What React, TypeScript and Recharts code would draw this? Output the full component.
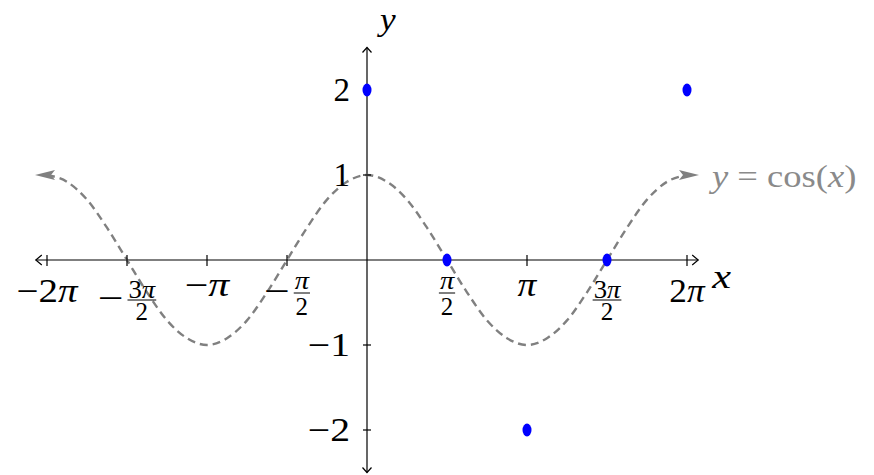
import React from "react"
import {
  ComposedChart,
  Line,
  Scatter,
  XAxis,
  YAxis,
  ReferenceLine,
  ReferenceDot,
} from "recharts"

// x values are in units of π
const CURVE_X = [
  -2, -1.875, -1.75, -1.625, -1.5, -1.375, -1.25, -1.125, -1, -0.875, -0.75, -0.625, -0.5, -0.375, -0.25, -0.125,
  0, 0.125, 0.25, 0.375, 0.5, 0.625, 0.75, 0.875, 1, 1.125, 1.25, 1.375, 1.5, 1.625, 1.75, 1.875, 2,
]
const CURVE_Y = [
  1, 0.92, 0.71, 0.38, 0, -0.38, -0.71, -0.92, -1, -0.92, -0.71, -0.38, 0, 0.38, 0.71, 0.92,
  1, 0.92, 0.71, 0.38, 0, -0.38, -0.71, -0.92, -1, -0.92, -0.71, -0.38, 0, 0.38, 0.71, 0.92, 1,
]

const POINT_X = [0, 0.5, 1, 1.5, 2]
const POINT_Y = [2, 0, -2, 0, 2]

const X_TICKS = [-2, -1.5, -1, -0.5, 0.5, 1, 1.5, 2]
const X_TICK_LABELS = ["−2π", "−3π/2", "−π", "−π/2", "π/2", "π", "3π/2", "2π"]
const Y_TICKS = [-2, -1, 1, 2]
const Y_TICK_LABELS = ["−2", "−1", "1", "2"]

const X_DOMAIN: [number, number] = [-2.25, 2.25]
const Y_DOMAIN: [number, number] = [-2.5, 2.5]
const X_AXIS_END = 2.07

const CURVE_LABEL = "y = cos(x)"

const curveData = CURVE_X.map((x, i) => ({ x, y: CURVE_Y[i] }))
const pointData = POINT_X.map((x, i) => ({ x, y: POINT_Y[i] }))

const FONT = "'Liberation Serif', 'Times New Roman', serif"
const GRAY = "#808080"
const MAIN = 33
const SMALL = 25

// rough Computer Modern advance widths (em) so Times glyphs take TeX-like room
const CM_W: Record<string, number> = { "−": 0.78, "π": 0.57, "=": 0.78, " ": 0.28, "(": 0.39, ")": 0.39, c: 0.44, o: 0.5, s: 0.39, x: 0.57, y: 0.49 }
const ITALIC = new Set(["π", "x", "y"])
const widthOf = (t: string, size: number) => t.split("").reduce((s, ch) => s + (CM_W[ch] ?? 0.5), 0) * size

function MathText({ text, fontSize, ...rest }: any) {
  return (
    <text
      fontFamily={FONT}
      fontSize={fontSize}
      textLength={widthOf(text, fontSize)}
      lengthAdjust="spacingAndGlyphs"
      style={{ whiteSpace: "pre" }}
      {...rest}
    >
      {text.split("").map((ch: string, i: number) =>
        ITALIC.has(ch) ? <tspan key={i} fontStyle="italic">{ch}</tspan> : <tspan key={i}>{ch}</tspan>
      )}
    </text>
  )
}

function XTick({ cx, cy, label }: any) {
  const tick = <line x1={cx} x2={cx} y1={cy - 5} y2={cy + 6} stroke="#000" strokeWidth={1.2} />
  if (!label.includes("/")) {
    const base = cy + (/\d/.test(label) ? 42 : 36)
    return (
      <g>
        {tick}
        <MathText text={label} x={cx} y={base} fontSize={MAIN} textAnchor="middle" fill="#000" />
      </g>
    )
  }
  const [num, den] = label.split("/")
  const neg = num.startsWith("−")
  const n = neg ? num.slice(1) : num
  const digit = /\d/.test(n)
  const numBase = cy + (digit ? 38 : 29)
  const bar = cy + (digit ? 40 : 33)
  const denBase = cy + (digit ? 60 : 55)
  const fracW = widthOf(n, SMALL) + 2
  const mW = widthOf("−", MAIN)
  const total = neg ? mW + 4 + fracW : fracW
  const left = cx - total / 2
  const fracLeft = neg ? left + mW + 4 : left
  const fracCx = fracLeft + fracW / 2
  return (
    <g>
      {tick}
      {neg && <MathText text="−" x={left + mW / 2} y={bar + 9} fontSize={MAIN} textAnchor="middle" fill="#000" />}
      <MathText text={n} x={fracCx} y={numBase} fontSize={SMALL} textAnchor="middle" fill="#000" />
      <line x1={fracLeft} x2={fracLeft + fracW} y1={bar} y2={bar} stroke="#000" strokeWidth={1} />
      <MathText text={den} x={fracCx} y={denBase} fontSize={SMALL} textAnchor="middle" fill="#000" />
    </g>
  )
}

function YTick({ cx, cy, label }: any) {
  return (
    <g>
      <line x1={cx - 4} x2={cx + 4} y1={cy} y2={cy} stroke="#000" strokeWidth={1.2} />
      <MathText text={label} x={cx - 17} y={cy + 11} fontSize={MAIN} textAnchor="end" fill="#000" />
    </g>
  )
}

function AxisShape({ x1, y1, x2, y2 }: any) {
  const horizontal = Math.abs(y2 - y1) < 1
  const a = horizontal
    ? [
        `M${x1 + 6},${y1 - 5} L${x1},${y1} L${x1 + 6},${y1 + 5}`,
        `M${x2 - 6},${y2 - 5} L${x2},${y2} L${x2 - 6},${y2 + 5}`,
      ]
    : [
        `M${x1 - 4.5},${y1 + 5} L${x1},${y1} L${x1 + 4.5},${y1 + 5}`,
        `M${x2 - 4.5},${y2 - 5} L${x2},${y2} L${x2 + 4.5},${y2 - 5}`,
      ]
  return (
    <g>
      <line x1={x1} y1={y1} x2={x2} y2={y2} stroke="#000" strokeWidth={1.2} />
      {a.map((d, i) => (
        <path key={i} d={d} fill="none" stroke="#000" strokeWidth={1.2} />
      ))}
    </g>
  )
}

function CurveEnd(props: any) {
  const { cx, cy, index } = props
  const last = curveData.length - 1
  if (index !== 0 && index !== last) return <g key={`d${index}`} />
  const s = index === 0 ? -1 : 1
  const pts = [
    [cx + s * 12, cy],
    [cx - s * 8, cy - 5],
    [cx - s * 4, cy],
    [cx - s * 8, cy + 5],
  ]
  return <polygon key={`d${index}`} points={pts.map((p) => p.join(",")).join(" ")} fill={GRAY} />
}

function BlueDot({ cx, cy }: any) {
  return <ellipse cx={cx} cy={cy} rx={4.5} ry={6.5} fill="#0000ff" />
}

export default function App() {
  return (
    <div style={{ position: "absolute", left: 0, top: 0, background: "#fff" }}>
      <ComposedChart
        width={874}
        height={475}
        margin={{ top: 47.5, bottom: 2.5, left: 7, right: 147 }}
      >
        <XAxis type="number" dataKey="x" domain={X_DOMAIN} allowDataOverflow hide />
        <YAxis type="number" dataKey="y" domain={Y_DOMAIN} allowDataOverflow hide />
        <ReferenceLine
          segment={[{ x: -X_AXIS_END, y: 0 }, { x: X_AXIS_END, y: 0 }]}
          ifOverflow="visible"
          shape={(p: any) => <AxisShape {...p} />}
        />
        <ReferenceLine
          segment={[{ x: 0, y: Y_DOMAIN[1] }, { x: 0, y: Y_DOMAIN[0] }]}
          ifOverflow="visible"
          shape={(p: any) => <AxisShape {...p} />}
        />
        {X_TICKS.map((t, i) => (
          <ReferenceDot
            key={`xt${i}`}
            x={t}
            y={0}
            r={0}
            ifOverflow="visible"
            shape={(p: any) => <XTick cx={p.cx} cy={p.cy} label={X_TICK_LABELS[i]} />}
          />
        ))}
        {Y_TICKS.map((t, i) => (
          <ReferenceDot
            key={`yt${i}`}
            x={0}
            y={t}
            r={0}
            ifOverflow="visible"
            shape={(p: any) => <YTick cx={p.cx} cy={p.cy} label={Y_TICK_LABELS[i]} />}
          />
        ))}
        <ReferenceDot
          x={X_AXIS_END}
          y={0}
          r={0}
          ifOverflow="visible"
          shape={(p: any) => <MathText text="x" x={p.cx + 14} y={p.cy + 28} fontSize={MAIN} fill="#000" />}
        />
        <ReferenceDot
          x={0}
          y={Y_DOMAIN[1]}
          r={0}
          ifOverflow="visible"
          shape={(p: any) => <MathText text="y" x={p.cx + 13} y={p.cy - 17.5} fontSize={32} fill="#000" />}
        />
        <Line
          data={curveData}
          dataKey="y"
          type="monotone"
          stroke={GRAY}
          strokeWidth={2.4}
          strokeDasharray="8 5"
          dot={(p: any) => <CurveEnd key={`d${p.index}`} {...p} />}
          activeDot={false}
          isAnimationActive={false}
        />
        <Scatter
          data={pointData}
          dataKey="y"
          shape={(p: any) => <BlueDot cx={p.cx} cy={p.cy} />}
          isAnimationActive={false}
        />
        <ReferenceDot
          x={2}
          y={1}
          r={0}
          ifOverflow="visible"
          shape={(p: any) => (
            <MathText text={CURVE_LABEL} x={p.cx + 25} y={p.cy + 12} fontSize={32} fill="#8a8a8a" />
          )}
        />
      </ComposedChart>
    </div>
  )
}
